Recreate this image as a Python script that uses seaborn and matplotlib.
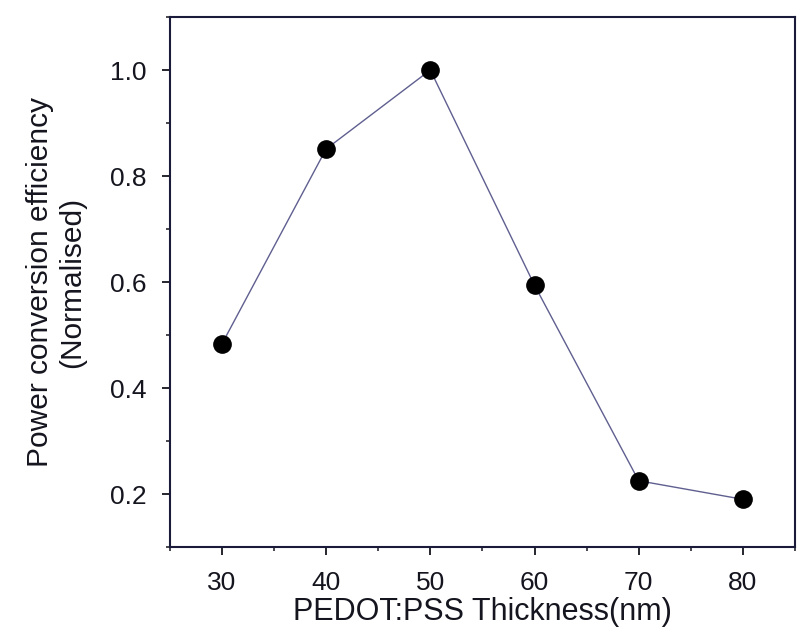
import matplotlib
matplotlib.use("Agg")
import matplotlib.pyplot as plt
import seaborn as sns
import pandas as pd
from matplotlib.ticker import MultipleLocator

thickness = [30, 40, 50, 60, 70, 80]
pce_norm = [0.483, 0.851, 1.0, 0.594, 0.225, 0.19]
x_ticks = [30, 40, 50, 60, 70, 80]
y_ticks = [0.2, 0.4, 0.6, 0.8, 1.0]

df = pd.DataFrame({"thickness": thickness, "pce": pce_norm})

sns.set_style("ticks")
plt.rcParams["font.family"] = ["Liberation Sans", "DejaVu Sans"]

fig = plt.figure(figsize=(8.01, 6.4), dpi=100)
ax = fig.add_axes([0.212, 0.1453, 0.7805, 0.8281])

sns.lineplot(data=df, x="thickness", y="pce", ax=ax, color="#5f5f90", linewidth=1.0)
sns.scatterplot(data=df, x="thickness", y="pce", ax=ax, color="black", s=155, edgecolor="black", zorder=3)

ax.set_xlim(25, 85)
ax.set_ylim(0.1, 1.1)
ax.set_xticks(x_ticks)
ax.set_yticks(y_ticks)
ax.set_yticklabels([f"{v:.1f}" for v in y_ticks])
ax.xaxis.set_minor_locator(MultipleLocator(5))
ax.yaxis.set_minor_locator(MultipleLocator(0.1))
ax.tick_params(which="major", direction="out", length=6, width=1.3, labelsize=19, colors="#15151f", pad=11)
ax.tick_params(which="minor", direction="out", length=3, width=1.1, colors="#15151f")
for s in ax.spines.values():
    s.set_linewidth(1.5)
    s.set_color("#1a1a3a")

ax.set_xlabel("PEDOT:PSS Thickness(nm)", fontsize=22, color="#15151f")
ax.set_ylabel("Power conversion efficiency\n(Normalised)", fontsize=21.5, labelpad=17, color="#15151f")
ax.xaxis.set_label_coords(0.5, -0.095)

fig.savefig("out.png", dpi=100)
